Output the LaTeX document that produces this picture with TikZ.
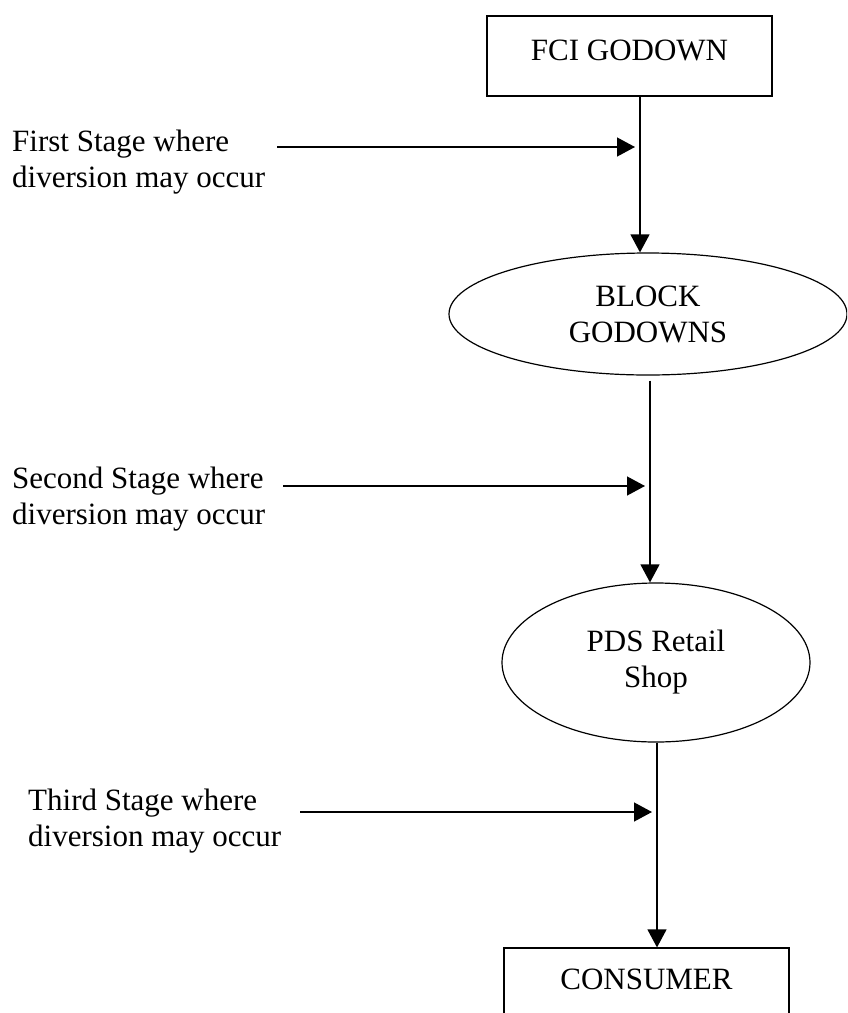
\documentclass[tikz,border=0pt]{standalone}
\usepackage{fontspec}
\setmainfont{Liberation Serif}
\usetikzlibrary{arrows.meta,shapes.geometric}
\begin{document}
\begin{tikzpicture}[x=1pt,y=-1pt,
  every node/.style={font=\fontsize{31}{36}\selectfont},
  boxnode/.style={draw, line width=1.2pt, rectangle, minimum width=285pt, inner sep=0pt},
  ovalnode/.style={draw, line width=1.2pt, ellipse, inner sep=0pt, align=center},
  lab/.style={anchor=north west, inner sep=0pt, align=left},
  flow/.style={line width=1.3pt, -{Triangle[length=18pt,width=19pt]}}]
\useasboundingbox (0,0) rectangle (847,1013);
\clip (0,0) rectangle (847,1013);
% main nodes
\node[boxnode, minimum height=80pt, text height=20.5pt, text depth=12.5pt] (fci) at (629.5,56) {FCI GODOWN};
\node[ovalnode, minimum width=398pt, minimum height=122pt] (block) at (648,314) {BLOCK\\GODOWNS};
\node[ovalnode, minimum width=308pt, minimum height=159pt] (pds) at (656,662.5) {PDS Retail\\Shop};
\node[boxnode, minimum height=82pt, text height=20.5pt, text depth=20.5pt] (cons) at (646.5,989) {CONSUMER};
% labels
\node[lab] (lab1) at (12,129.8) {First Stage where\\diversion may occur};
\node[lab] (lab2) at (12,466.8) {Second Stage where\\diversion may occur};
\node[lab] (lab3) at (28,788.8) {Third Stage where\\diversion may occur};
% vertical flow
\coordinate (v1) at (640,0);
\coordinate (v2) at (650,0);
\coordinate (v3) at (657,0);
\coordinate (b2) at ([yshift=-5pt]block.south);
\draw[flow] (fci.south -| v1) -- (block.north -| v1);
\draw[flow] (b2 -| v2) -- (pds.north -| v2);
\draw[flow] (pds.south -| v3) -- (cons.north -| v3);
% diversion arrows
\coordinate (s1) at (277,147);
\coordinate (e1) at (635,147);
\coordinate (s2) at (283,486);
\coordinate (e2) at (645,486);
\coordinate (s3) at (300,812);
\coordinate (e3) at (652,812);
\draw[flow] (s1) -- (e1);
\draw[flow] (s2) -- (e2);
\draw[flow] (s3) -- (e3);
\end{tikzpicture}
\end{document}
